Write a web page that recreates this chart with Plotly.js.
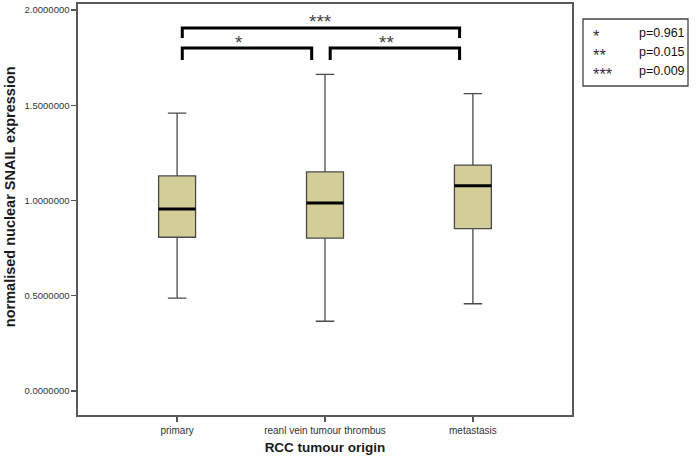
<!DOCTYPE html>
<html>
<head>
<meta charset="utf-8">
<script src="https://cdn.plot.ly/plotly-3.0.1.min.js"></script>
<style>html,body{margin:0;padding:0;background:#fff;}#chart{width:697px;height:462px;}</style>
</head>
<body>
<div id="chart"></div>
<script>
// ---- data ----
const categories = ["primary", "reanl vein tumour thrombus", "metastasis"];
const lowerWhisker = [0.487, 0.366, 0.458];
const q1Values = [0.807, 0.803, 0.852];
const medianValues = [0.955, 0.987, 1.078];
const q3Values = [1.129, 1.150, 1.186];
const upperWhisker = [1.459, 1.662, 1.561];
const yTickValues = [0, 0.5, 1, 1.5, 2];

// significance brackets (pairs of category indices)
const bracketFrom = [0, 1, 0];
const bracketTo = [1, 2, 2];
const bracketTop = [1.800, 1.800, 1.906];
const bracketLeg = [1.738, 1.738, 1.853];
const bracketStars = ["*", "**", "***"];
const pValues = ["p=0.961", "p=0.015", "p=0.009"];

// ---- build ----
const xIdx = categories.map((c, i) => i);
const boxWidth = 0.25;
const FONT = "Liberation Sans, Arial, sans-serif";

const traces = [];
traces.push({
  type: "box",
  x: xIdx,
  q1: q1Values,
  median: medianValues,
  q3: q3Values,
  lowerfence: lowerWhisker,
  upperfence: upperWhisker,
  width: boxWidth,
  whiskerwidth: 0.5,
  fillcolor: "#d3ce98",
  line: { color: "#4a4a4a", width: 1.3 },
  boxpoints: false,
  hoverinfo: "skip",
  showlegend: false
});

// thick medians
xIdx.forEach((i) => {
  traces.push({
    type: "scatter", mode: "lines",
    x: [i - boxWidth / 2, i + boxWidth / 2],
    y: [medianValues[i], medianValues[i]],
    line: { color: "#000", width: 3 },
    hoverinfo: "skip", showlegend: false
  });
});

// brackets
const startPad = 0.035, endPad = 0.09;
const starShift = [-8, -8, 0];
const annotations = [];
bracketFrom.forEach((a, k) => {
  const b = bracketTo[k];
  const x0 = a + startPad, x1 = b - endPad;
  traces.push({
    type: "scatter", mode: "lines",
    x: [x0, x0, x1, x1],
    y: [bracketLeg[k], bracketTop[k], bracketTop[k], bracketLeg[k]],
    line: { color: "#000", width: 3 },
    hoverinfo: "skip", showlegend: false
  });
  annotations.push({
    x: (x0 + x1) / 2, y: bracketTop[k], xref: "x", yref: "y",
    text: bracketStars[k], showarrow: false, yanchor: "middle", yshift: 6,
    xshift: starShift[k],
    font: { family: FONT, size: 19, color: "#444" }
  });
});

// legend box text
const rowY = [0.929, 0.883, 0.837];
bracketStars.forEach((s, k) => {
  annotations.push({
    x: 1.038, y: rowY[k], xref: "paper", yref: "paper", xanchor: "left", yanchor: "middle",
    text: s, showarrow: false, yshift: -3,
    font: { family: FONT, size: 16.5, color: "#333" }
  });
  annotations.push({
    x: 1.132, y: rowY[k], xref: "paper", yref: "paper", xanchor: "left", yanchor: "middle",
    text: pValues[k], showarrow: false,
    font: { family: FONT, size: 12.5, color: "#111" }
  });
});

// y-axis title as annotation (centred where the reference has it)
annotations.push({
  x: 0, y: 0.53, xref: "paper", yref: "paper", xanchor: "center", yanchor: "middle",
  xshift: -68, textangle: -90, showarrow: false,
  text: "<b>normalised nuclear SNAIL expression</b>",
  font: { family: FONT, size: 14.5, color: "#1a1a1a" }
});

const layout = {
  width: 697, height: 462,
  margin: { l: 78, r: 125, t: 4, b: 47 },
  paper_bgcolor: "#fff", plot_bgcolor: "#fff",
  showlegend: false,
  xaxis: {
    range: [-0.67, 2.67],
    tickmode: "array", tickvals: xIdx, ticktext: categories,
    ticks: "outside", ticklen: 5, tickwidth: 1.3, tickcolor: "#555",
    showgrid: false, zeroline: false,
    showline: true, mirror: true, linecolor: "#5a5a5a", linewidth: 1.6,
    tickfont: { family: FONT, size: 10, color: "#333" },
    title: { text: "<b>RCC tumour origin</b>", standoff: 8,
      font: { family: FONT, size: 13.5, color: "#1a1a1a" } }
  },
  yaxis: {
    range: [-0.126, 2.0315],
    tickmode: "array", tickvals: yTickValues, tickformat: ".7f",
    ticks: "outside", ticklen: 5, tickwidth: 1.3, tickcolor: "#555",
    showgrid: false, zeroline: false,
    showline: true, mirror: true, linecolor: "#5a5a5a", linewidth: 1.6,
    tickfont: { family: FONT, size: 9.5, color: "#333" }
  },
  shapes: [{
    type: "rect", xref: "paper", yref: "paper",
    x0: 1.0223, x1: 1.2348, y0: 0.8005, y1: 0.9635,
    line: { color: "#444", width: 1.3 }, fillcolor: "rgba(0,0,0,0)"
  }],
  annotations: annotations
};

Plotly.newPlot("chart", traces, layout, { displayModeBar: false, staticPlot: true });
</script>
</body>
</html>
